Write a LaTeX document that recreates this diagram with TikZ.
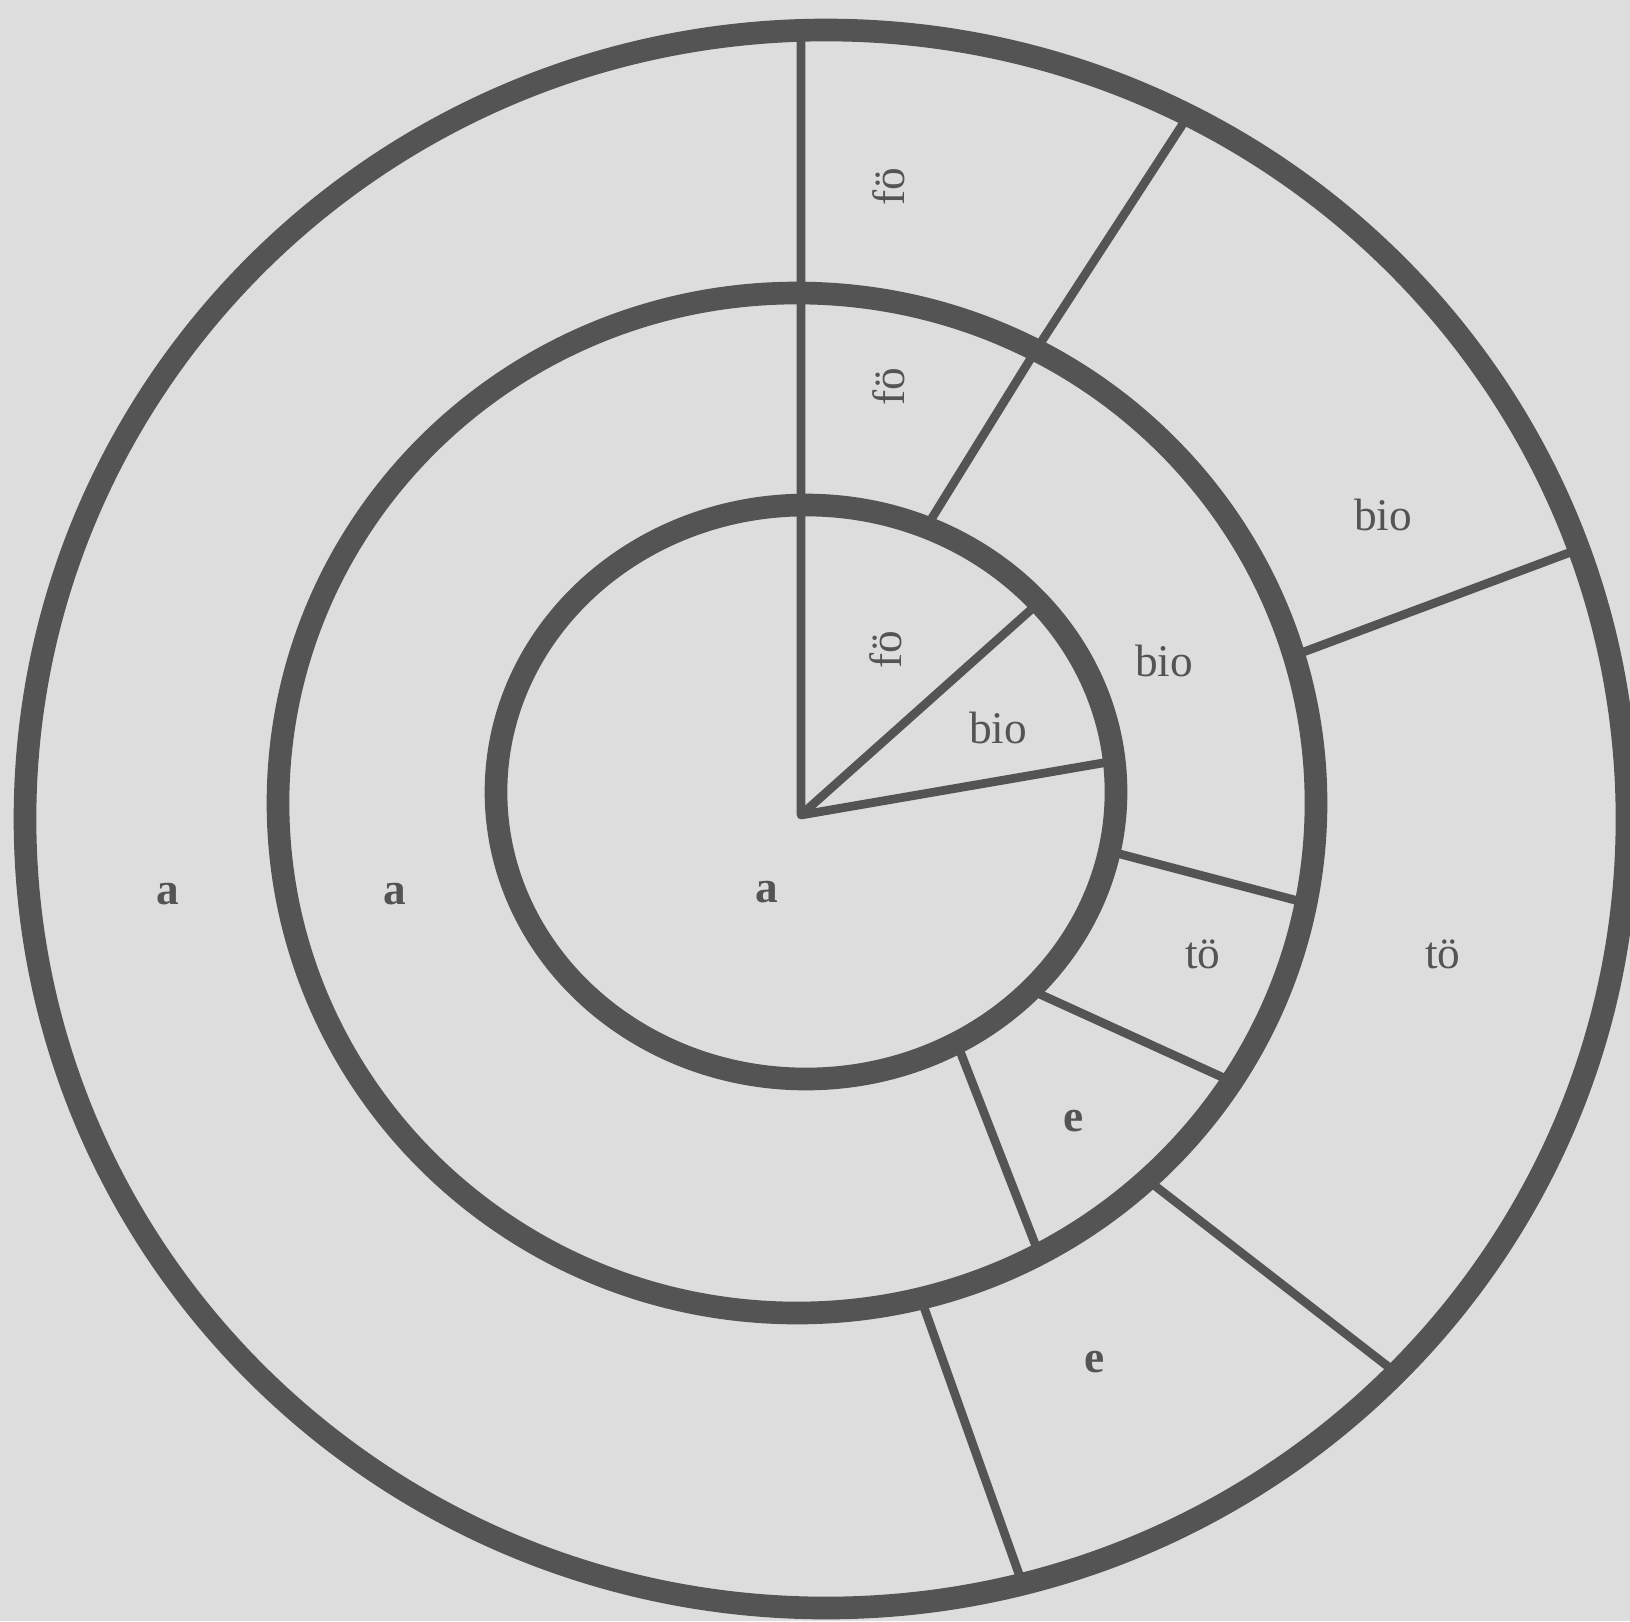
\documentclass[tikz,border=0pt]{standalone}
\usepackage{fontspec}
\setmainfont{Liberation Serif}
\usetikzlibrary{calc}
\definecolor{ink}{RGB}{84,84,84}
\definecolor{paper}{RGB}{221,221,221}

\tikzset{every picture/.style={line width=0.75pt}}
\tikzset{
  ring/.style={draw=ink, line width=17pt},
  spoke/.style={draw=ink, line width=6.5pt, line join=round},
  lbl/.style={text=ink, font=\fontsize{34}{40}\selectfont, inner sep=0.75pt},
  boldlbl/.style={lbl, font=\fontsize{34}{40}\selectfont\bfseries},
}

\begin{document}
\begin{tikzpicture}[x=0.75pt,y=0.75pt,yscale=-1,xscale=1]
%Background
\fill[paper] (0,0) rectangle (1630,1621);
\useasboundingbox (0,0) rectangle (1630,1621);
\clip (0,0) rectangle (1630,1621);

% centres
\coordinate (outc) at (826,819);
\coordinate (midc) at (797,803);
\coordinate (innc) at (806,792);
\coordinate (hub) at (801,815);

% spoke ends on the inner ring
\coordinate (in1) at ($(innc)+(-41.3:310 and 287)$);
\coordinate (in2) at ($(innc)+(-6.2:310 and 287)$);
\coordinate (a1) at ($(innc)+(-67.2:310 and 287)$);
\coordinate (c1) at ($(innc)+(11.9:310 and 287)$);
\coordinate (d1) at ($(innc)+(43.6:310 and 287)$);
\coordinate (e1) at ($(innc)+(60.9:310 and 287)$);
% spoke ends on the middle ring
\coordinate (a2) at ($(midc)+(-62.6:519 and 510)$);
\coordinate (b1) at ($(midc)+(-16.8:519 and 510)$);
\coordinate (c2) at ($(midc)+(11.3:519 and 510)$);
\coordinate (d2) at ($(midc)+(33.1:519 and 510)$);
\coordinate (e2) at ($(midc)+(62.2:519 and 510)$);
\coordinate (f1) at ($(midc)+(47.6:519 and 510)$);
\coordinate (g1) at ($(midc)+(76.2:519 and 510)$);
% spoke ends on the outer ring
\coordinate (top) at (801,30);
\coordinate (a3) at ($(outc)+(-63.1:801 and 789)$);
\coordinate (b2) at ($(outc)+(-20.0:801 and 789)$);
\coordinate (f2) at ($(outc)+(44.6:801 and 789)$);
\coordinate (g2) at ($(outc)+(75.8:801 and 789)$);

%Spokes
\draw[spoke] (top) -- (hub) -- (in2);
\draw[spoke] (hub) -- (in1);
\draw[spoke] (a1) -- (a2) -- (a3);
\draw[spoke] (b1) -- (b2);
\draw[spoke] (c1) -- (c2);
\draw[spoke] (d1) -- (d2);
\draw[spoke] (e1) -- (e2);
\draw[spoke] (f1) -- (f2);
\draw[spoke] (g1) -- (g2);

%Rings
\draw[ring] (outc) ellipse [x radius=801, y radius=789];
\draw[ring] (midc) ellipse [x radius=519, y radius=510];
\draw[ring] (innc) ellipse [x radius=310, y radius=287];

% Text Node
\node[lbl, rotate=90] (fo3) at (889,187) {fö};
\node[lbl, rotate=90] (fo2) at (889,387) {fö};
\node[lbl, rotate=90] (fo1) at (886,650) {fö};
\node[lbl] (bio1) at (998,728) {bio};
\node[lbl] (bio2) at (1164,661) {bio};
\node[lbl] (bio3) at (1383,515) {bio};
\node[lbl] (to2) at (1203,954) {tö};
\node[lbl] (to3) at (1443,954) {tö};
\node[boldlbl] (e2l) at (1074,1121) {e};
\node[boldlbl] (e3l) at (1095,1362) {e};
\node[boldlbl] (a3l) at (168,894) {a};
\node[boldlbl] (a2l) at (395,894) {a};
\node[boldlbl] (a1l) at (767,892) {a};

\end{tikzpicture}
\end{document}
